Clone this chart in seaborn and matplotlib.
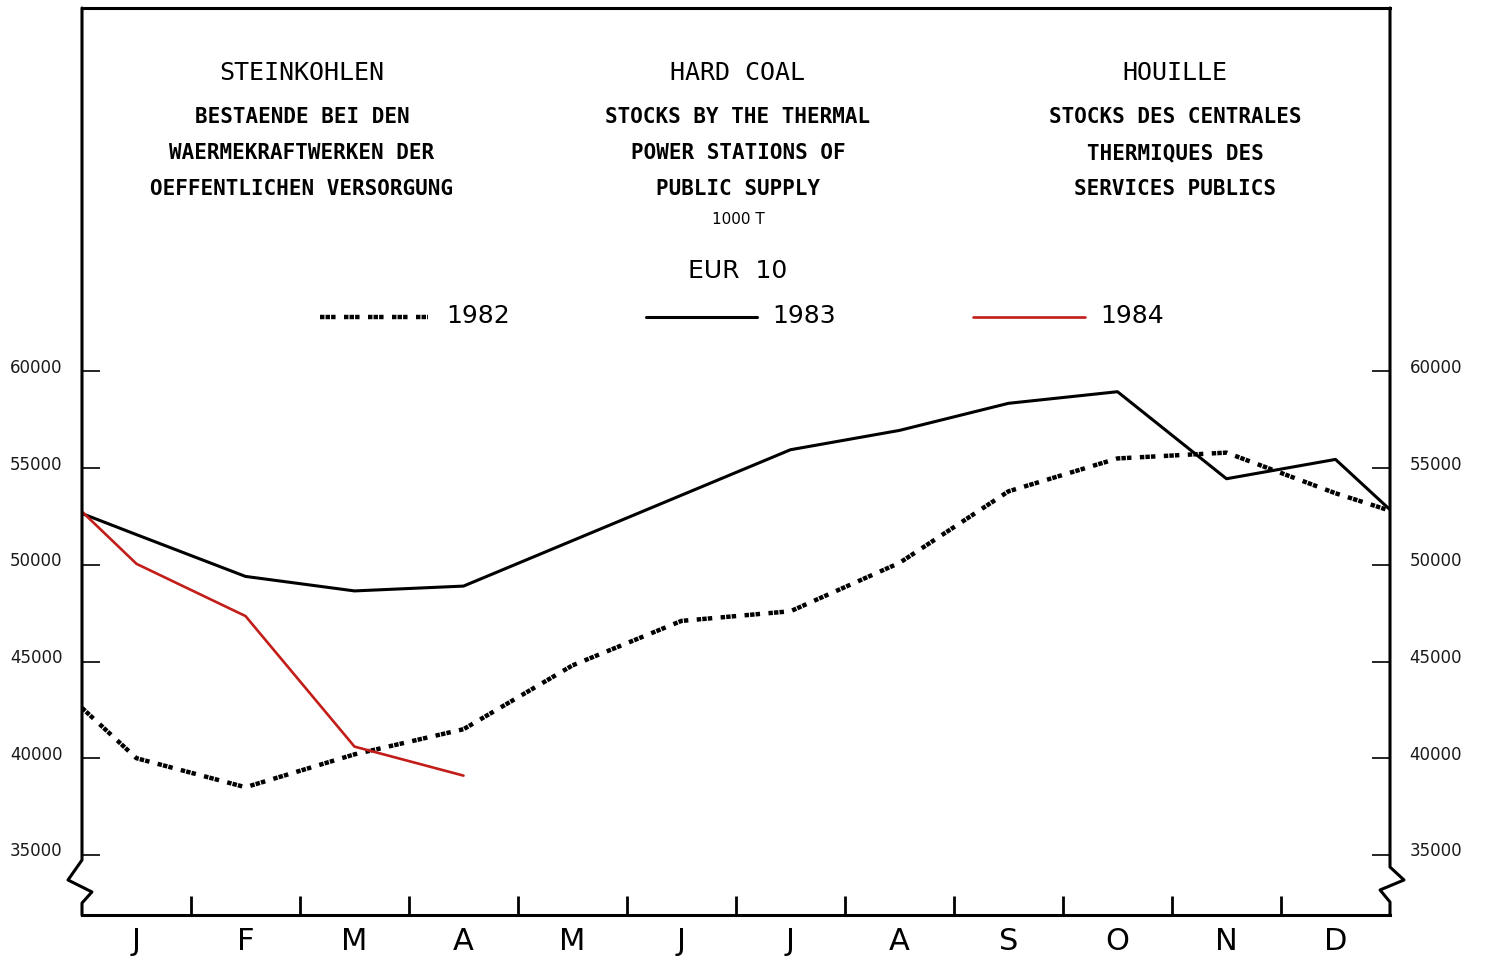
import numpy as np
import pandas as pd
import matplotlib
matplotlib.use("Agg")
import matplotlib.pyplot as plt
from matplotlib.lines import Line2D
from matplotlib.transforms import ScaledTranslation
import seaborn as sns

# month labels on the x axis
months = ["J", "F", "M", "A", "M", "J", "J", "A", "S", "O", "N", "D"]

# stocks (1000 t): start of year, then one value per month, then end of year
stocks_1982 = [42600, 40000, 38500, 40200, 41500, 44800, 47100, 47600,
               50100, 53800, 55500, 55800, 53700, 52800]
stocks_1983 = [52650, 51560, 49400, 48650, 48900, 51250, 53600, 55950,
               56950, 58350, 58950, 54450, 55450, 52850]
stocks_1984 = [52750, 50050, 47350, 40600, 39100]

y_ticks = [35000, 40000, 45000, 50000, 55000, 60000]

# x positions: edge of year, month centres, edge of year
pos = np.concatenate([[0.0], np.arange(len(months)) + 0.5, [len(months)]])

frames = []
for year, vals in [("1982", stocks_1982), ("1983", stocks_1983), ("1984", stocks_1984)]:
    frames.append(pd.DataFrame({"year": year, "pos": pos[:len(vals)], "stocks": vals}))
df = pd.concat(frames, ignore_index=True)

sns.set_style("white")
plt.rcParams["font.family"] = ["DejaVu Sans"]
plt.rcParams["text.color"] = "black"

styles = {
    "1982": dict(color="black", lw=3.2, dashes=(1, 0.25, 1, 0.25, 1, 1.9)),
    "1983": dict(color="black", lw=2.2),
    "1984": dict(color="#c21d18", lw=1.9),
}

fig = plt.figure(figsize=(14.86, 9.6), dpi=100)
ax = fig.add_axes([82 / 1486, 45 / 960, 1308 / 1486, 907 / 960])

for year, st in styles.items():
    sub = df[df["year"] == year]
    kw = dict(color=st["color"], linewidth=st["lw"])
    if "dashes" in st:
        kw["dashes"] = st["dashes"]
    sns.lineplot(data=sub, x="pos", y="stocks", ax=ax, legend=False,
                 sort=False, estimator=None, **kw)

ax.set_xlim(0, 12)
ax.set_ylim(31894, 78789)
ax.set_xlabel("")
ax.set_ylabel("")

# frame: top and bottom spines, custom sides with axis breaks
for side in ["left", "right"]:
    ax.spines[side].set_visible(False)
for side in ["top", "bottom"]:
    ax.spines[side].set_linewidth(2.2)
    ax.spines[side].set_color("black")

ax.plot([0, 0, -0.0107, 0.0076, 0, 0], [1, 0.0606, 0.0386, 0.0254, 0.0132, 0],
        transform=ax.transAxes, clip_on=False, color="black", lw=2.2)
ax.plot([1, 1, 1.0107, 0.9924, 1, 1], [1, 0.0529, 0.0386, 0.0276, 0.0143, 0],
        transform=ax.transAxes, clip_on=False, color="black", lw=2.2)

# y ticks on both sides
ax.set_yticks(y_ticks)
ax.set_yticklabels([str(v) for v in y_ticks])
ax.tick_params(axis="y", direction="in", length=13, width=1.2, color="black",
               left=True, right=True, labelleft=True, labelright=True,
               pad=14, labelsize=12, labelcolor="#1a1a1a")
shift = ScaledTranslation(0, 4 / 72, fig.dpi_scale_trans)
for t in ax.yaxis.get_major_ticks():
    t.label1.set_transform(t.label1.get_transform() + shift)
    t.label2.set_transform(t.label2.get_transform() + shift)

# x ticks at month boundaries, labels at month centres
ax.set_xticks(np.arange(1, 12))
ax.set_xticklabels([])
ax.set_xticks(np.arange(len(months)) + 0.5, minor=True)
ax.set_xticklabels(months, minor=True)
ax.tick_params(axis="x", which="major", direction="in", length=14, width=2,
               bottom=True, color="black")
ax.tick_params(axis="x", which="minor", length=0, pad=9, labelsize=22,
               labelcolor="black")

# header text
def fx(x):
    return x / 1486

def fy(y):
    return 1 - y / 960

mono = "DejaVu Sans Mono"
columns = [
    (302, "STEINKOHLEN", ["BESTAENDE BEI DEN", "WAERMEKRAFTWERKEN DER",
                          "OEFFENTLICHEN VERSORGUNG"]),
    (738, "HARD COAL", ["STOCKS BY THE THERMAL", "POWER STATIONS OF",
                        "PUBLIC SUPPLY"]),
    (1175, "HOUILLE", ["STOCKS DES CENTRALES", "THERMIQUES DES",
                       "SERVICES PUBLICS"]),
]
for cx, title, lines in columns:
    fig.text(fx(cx), fy(73), title, family=mono, fontsize=18, ha="center", va="center")
    for i, line in enumerate(lines):
        fig.text(fx(cx), fy(117 + 36 * i), line, family=mono, fontsize=15,
                 fontweight="bold", ha="center", va="center")

fig.text(fx(738), fy(219), "1000 T", fontsize=11, ha="center", va="center")
fig.text(fx(738), fy(271), "EUR  10", fontsize=18, ha="center", va="center")

# legend
legend_items = [
    ("1982", 320, 428, 446),
    ("1983", 646, 757, 772),
    ("1984", 973, 1085, 1100),
]
for year, x0, x1, xt in legend_items:
    st = styles[year]
    ln = Line2D([fx(x0), fx(x1)], [fy(317), fy(317)], color=st["color"],
                linewidth=st["lw"], transform=fig.transFigure)
    if "dashes" in st:
        ln.set_dashes(st["dashes"])
    fig.add_artist(ln)
    fig.text(fx(xt), fy(316), year, fontsize=18, ha="left", va="center")

fig.savefig("out.png", dpi=100)
